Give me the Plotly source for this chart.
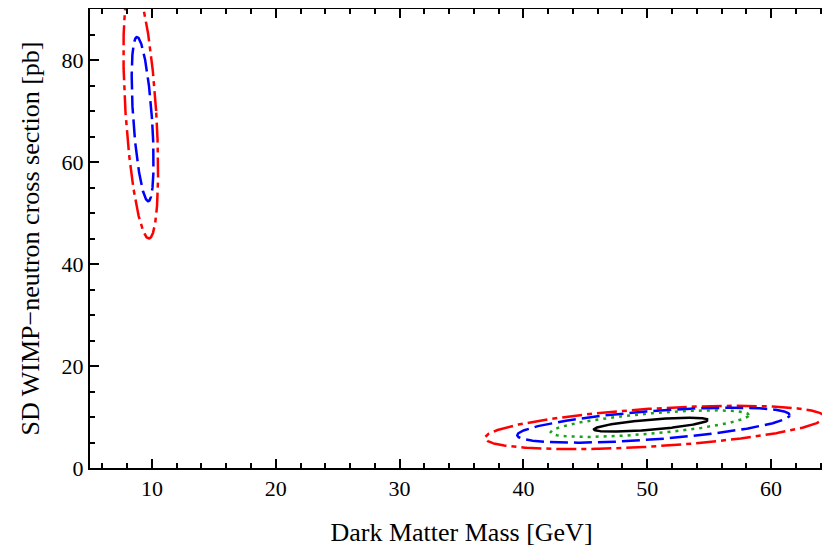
import numpy as np
import plotly.graph_objects as go

# contour ellipse parameters
names = ["red_low", "blue_low", "red_high", "blue_high", "green_high", "black_high"]
colors = ["red", "blue", "red", "blue", "#1aa31a", "black"]
dashes = ["20px,5px,5px,5px", "18px,6px", "20px,5px,5px,5px", "18px,6px", "3px,5px", "solid"]
orient = ["v", "v", "h", "h", "h", "h"]
cx = [9.1, 9.25, 50.6, 50.5, 50.2, 50.3]
cy = [70.0, 68.4, 7.95, 8.4, 8.7, 8.5]
major = [25.0, 16.1, 13.7, 11.0, 8.0, 4.6]
minor = [1.24, 0.76, 3.72, 2.8, 2.0, 1.0]
shear = [-0.026, -0.028, 0.15, 0.18, 0.21, 0.2]

t = np.linspace(0, 2*np.pi, 400)
fig = go.Figure()
for i in range(len(names)):
    if orient[i] == "h":
        x = cx[i] + major[i]*np.cos(t)
        y = cy[i] + shear[i]*major[i]*np.cos(t) + minor[i]*np.sin(t)
    else:
        y = cy[i] + major[i]*np.sin(t)
        x = cx[i] + shear[i]*major[i]*np.sin(t) + minor[i]*np.cos(t)
    fig.add_trace(go.Scatter(x=x, y=y, mode="lines", name=names[i],
                             line=dict(color=colors[i], width=2.5, dash=dashes[i])))

ax = dict(showline=True, linecolor="black", linewidth=2, mirror="ticks", ticks="inside",
          ticklen=9, tickwidth=2, tickcolor="black", showgrid=False, zeroline=False,
          automargin=False,
          minor=dict(ticks="inside", ticklen=5, tickwidth=1.5, tickcolor="black"),
          tickfont=dict(size=22, color="black"))
fig.update_layout(
    width=830, height=554, plot_bgcolor="white", paper_bgcolor="white", showlegend=False,
    margin=dict(l=82, r=5, t=1, b=94),
    font=dict(family="Liberation Serif", size=22, color="black"),
    xaxis=dict(range=[5, 65], dtick=10, title=dict(text="Dark Matter Mass [GeV]", standoff=22),
               minor_dtick=2, **ax),
    yaxis=dict(range=[0, 90], dtick=20, title=dict(text="SD WIMP\u2212neutron cross section [pb]", standoff=14),
               minor_dtick=5, **ax),
)
fig.write_html("out.html")
